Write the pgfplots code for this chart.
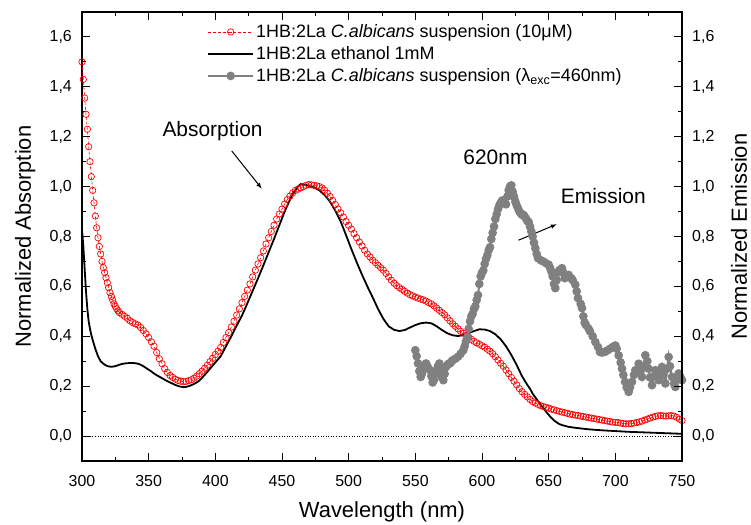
\documentclass[border=0pt]{standalone}
\usepackage{fontspec}
\setmainfont{Liberation Sans}
\usepackage{pgfplots}
\pgfplotsset{compat=1.18}
\definecolor{emgray}{RGB}{128,128,128}
\begin{document}
\begin{tikzpicture}
\pgfplotsset{
  common/.style={
    scale only axis, width=600bp, height=449bp,
    xmin=300, xmax=750, ymin=-0.1, ymax=1.7,
    tick align=inside,
    major tick length=8bp, minor tick length=4.5bp,
    minor x tick num=1, minor y tick num=1,
    xtick={300,350,...,750},
    ytick={0,0.2,0.4,0.6,0.8,1.0,1.2,1.4,1.6},
    every tick/.style={black, line width=1bp},
    axis line style={line width=1.3bp},
    /pgf/number format/assume math mode=true,
    tick label style={font=\fontsize{16}{19}\selectfont},
    yticklabel style={/pgf/number format/use comma, /pgf/number format/fixed, /pgf/number format/fixed zerofill, /pgf/number format/precision=1},
    label style={font=\fontsize{22}{26}\selectfont},
  }
}
\begin{axis}[common,
  xticklabel style={anchor=base, yshift=-25bp},
  yticklabel style={anchor=east, inner sep=0pt, xshift=-10bp},
  xlabel={Wavelength (nm)},
  xlabel style={at={(axis description cs:0.5,0)}, anchor=base, yshift=-56bp},
  ylabel={Normalized Absorption},
  ylabel style={at={(axis description cs:-0.085,0.5)}, rotate=0, anchor=base},
  legend cell align=left,
  legend style={draw=none, fill=none, at={(axis description cs:0.205,0.981)}, anchor=north west,
    font=\fontsize{18}{21}\selectfont, row sep=3.5bp, inner sep=2bp},
  legend image code/.code={\draw[mark repeat=2,mark phase=2,#1] plot coordinates {(0bp,0bp) (22.5bp,0bp) (45bp,0bp)};},
]
\addplot[black, dotted, line width=0.6bp, forget plot] coordinates {(300,0) (750,0)};
% red: C. albicans suspension absorption
\addplot[red, dash pattern=on 3bp off 2bp, line width=0.6bp, mark=o, mark size=3.2bp, mark options={solid, line width=0.7bp}] table {
x y
300 1.50
301 1.43
302 1.355
303 1.29
304 1.23
305 1.16
306 1.10
307 1.04
308 0.985
309 0.935
310 0.882
311 0.835
312 0.795
313 0.76
314 0.73
315 0.70
316 0.675
317 0.655
318 0.635
319 0.615
320 0.595
321 0.575
322 0.56
323 0.545
324 0.53
325 0.52
326 0.51
327 0.502
328 0.495
330 0.488
332 0.48
334 0.472
336 0.462
338 0.455
340 0.45
342 0.445
344 0.435
346 0.423
348 0.41
350 0.395
352 0.378
354 0.36
356 0.335
358 0.31
360 0.29
362 0.27
364 0.255
366 0.243
368 0.235
370 0.228
372 0.223
374 0.22
376 0.218
378 0.219
380 0.222
382 0.226
384 0.232
386 0.24
388 0.25
390 0.26
392 0.272
394 0.284
396 0.298
398 0.312
400 0.327
402 0.34
404 0.355
406 0.375
408 0.395
410 0.415
412 0.437
414 0.46
416 0.485
418 0.51
420 0.535
422 0.56
424 0.585
426 0.61
428 0.638
430 0.665
432 0.69
434 0.715
436 0.742
438 0.77
440 0.795
442 0.82
444 0.845
446 0.87
448 0.89
450 0.91
452 0.93
454 0.948
456 0.962
458 0.975
460 0.985
462 0.99
464 0.995
466 1.0
468 1.005
470 1.008
472 1.007
474 1.005
476 1.003
478 1.0
480 0.995
482 0.985
484 0.973
486 0.96
488 0.945
490 0.928
492 0.91
494 0.895
496 0.878
498 0.86
500 0.845
502 0.83
504 0.812
506 0.795
508 0.778
510 0.762
512 0.745
514 0.73
516 0.718
518 0.705
520 0.695
522 0.685
524 0.675
526 0.665
528 0.652
530 0.638
532 0.625
534 0.613
536 0.603
538 0.595
540 0.588
542 0.58
544 0.573
546 0.567
548 0.562
550 0.557
552 0.553
554 0.549
556 0.546
558 0.541
560 0.535
562 0.53
564 0.522
566 0.513
568 0.504
570 0.495
572 0.486
574 0.474
576 0.462
578 0.45
580 0.44
582 0.43
584 0.42
586 0.412
588 0.404
590 0.397
592 0.388
594 0.38
596 0.374
598 0.368
600 0.362
602 0.356
604 0.348
606 0.34
608 0.33
610 0.318
612 0.305
614 0.292
616 0.28
618 0.265
620 0.25
622 0.235
624 0.22
626 0.205
628 0.19
630 0.178
632 0.167
634 0.157
636 0.147
638 0.138
640 0.132
642 0.127
644 0.122
646 0.118
648 0.115
650 0.112
652 0.108
654 0.105
656 0.102
658 0.099
660 0.096
662 0.094
664 0.091
666 0.088
668 0.086
670 0.084
672 0.082
674 0.08
676 0.078
678 0.076
680 0.074
682 0.072
684 0.07
686 0.068
688 0.066
690 0.064
692 0.062
694 0.06
696 0.058
698 0.056
700 0.055
702 0.054
704 0.052
706 0.05
708 0.049
710 0.049
712 0.05
714 0.052
716 0.054
718 0.057
720 0.06
722 0.064
724 0.068
726 0.072
728 0.076
730 0.079
732 0.081
734 0.082
736 0.081
738 0.08
740 0.081
742 0.082
744 0.08
746 0.075
748 0.068
750 0.062
};
\addlegendentry{1HB:2La \textit{C.albicans} suspension (10μM)}
% black: ethanol 1 mM
\addplot[black, line width=1.8bp] table {
x y
300 0.83
301 0.76
302 0.67
303 0.58
304 0.51
305 0.46
306 0.43
307 0.405
308 0.385
310 0.35
312 0.32
314 0.3
316 0.29
318 0.283
320 0.279
322 0.278
324 0.279
326 0.282
328 0.286
330 0.289
332 0.291
334 0.292
336 0.293
338 0.293
340 0.292
342 0.29
344 0.286
346 0.28
348 0.273
350 0.266
352 0.259
354 0.251
356 0.244
358 0.238
360 0.232
362 0.226
364 0.22
366 0.215
368 0.21
370 0.205
372 0.201
374 0.198
376 0.196
378 0.197
380 0.2
382 0.204
384 0.209
386 0.215
388 0.222
392 0.245
396 0.27
400 0.295
404 0.32
408 0.36
412 0.40
416 0.443
420 0.483
424 0.532
428 0.582
432 0.632
436 0.684
440 0.737
444 0.79
448 0.845
452 0.9
456 0.948
458 0.97
460 0.985
462 1.0
464 1.01
466 1.008
468 1.007
470 1.003
474 0.997
478 0.985
482 0.966
486 0.94
490 0.903
494 0.86
498 0.806
502 0.75
506 0.697
510 0.647
514 0.6
518 0.556
522 0.51
526 0.47
530 0.44
534 0.426
538 0.421
542 0.425
546 0.435
550 0.445
554 0.452
558 0.455
562 0.452
566 0.44
570 0.425
574 0.412
578 0.404
582 0.401
586 0.405
590 0.413
594 0.421
598 0.428
602 0.427
606 0.421
610 0.408
614 0.388
618 0.36
622 0.325
626 0.285
630 0.24
634 0.205
636 0.19
638 0.17
640 0.155
642 0.14
644 0.126
646 0.112
648 0.098
650 0.085
652 0.073
654 0.063
656 0.055
658 0.048
660 0.044
665 0.037
670 0.033
680 0.027
690 0.023
700 0.02
710 0.017
720 0.015
730 0.013
740 0.011
750 0.009
};
\addlegendentry{1HB:2La ethanol 1mM}
% grey: emission
\addplot[emgray, line width=2bp, mark=*, mark size=3.3bp, mark options={emgray}] table {
x y
550 0.344
551 0.32
552 0.291
553 0.26
554 0.237
555 0.25
556 0.27
557 0.285
558 0.291
559 0.28
560 0.27
561 0.264
562 0.24
563 0.215
564 0.225
565 0.25
566 0.264
567 0.28
568 0.291
569 0.26
570 0.235
571 0.224
572 0.25
573 0.277
574 0.285
575 0.29
576 0.291
577 0.298
578 0.304
580 0.31
582 0.318
584 0.33
586 0.344
587 0.36
588 0.38
589 0.397
590 0.43
591 0.46
592 0.48
593 0.49
594 0.51
595 0.52
596 0.545
597 0.565
598 0.61
599 0.64
600 0.655
601 0.664
602 0.69
603 0.71
604 0.725
605 0.745
606 0.757
607 0.79
608 0.815
609 0.84
610 0.87
611 0.889
612 0.91
613 0.925
614 0.935
615 0.944
616 0.944
617 0.935
618 0.929
619 0.96
620 0.985
621 1.0
622 1.005
623 0.98
624 0.96
625 0.94
626 0.925
627 0.913
628 0.9
629 0.893
630 0.887
631 0.887
632 0.88
633 0.872
634 0.862
635 0.858
636 0.84
637 0.82
638 0.8
639 0.775
640 0.753
641 0.73
642 0.713
644 0.705
646 0.70
648 0.693
650 0.687
651 0.675
652 0.66
653 0.64
654 0.61
655 0.593
656 0.625
657 0.655
658 0.665
660 0.673
661 0.655
662 0.633
663 0.64
665 0.646
667 0.633
668 0.625
670 0.607
671 0.58
672 0.553
674 0.53
675 0.513
676 0.48
677 0.455
678 0.445
680 0.43
681 0.42
683 0.4
685 0.377
687 0.357
688.5 0.337
690 0.335
692 0.337
694 0.343
696 0.35
698 0.357
700 0.363
701 0.35
702.5 0.323
704 0.295
705 0.27
706 0.245
707.3 0.217
708.5 0.195
710 0.177
711 0.195
712.5 0.217
714 0.245
715 0.264
717.5 0.29
719 0.26
720 0.237
721 0.28
722.5 0.324
724 0.3
725 0.27
726 0.235
727.5 0.204
729 0.24
730 0.264
731 0.245
732.5 0.224
734 0.25
735 0.277
736 0.245
737.5 0.211
739 0.27
740 0.317
741 0.28
742.5 0.237
744 0.21
745 0.197
746 0.225
747.5 0.251
749 0.235
750 0.224
};
\addlegendentry{1HB:2La \textit{C.albicans} suspension (λ\textsubscript{exc}=460nm)}
\node[anchor=base, font=\fontsize{21}{25}\selectfont] at (axis cs:397.9,1.199) {Absorption};
\draw[-latex, line width=1bp] (axis cs:412.3,1.143) -- (axis cs:434.8,0.992);
\node[anchor=base, font=\fontsize{21}{25}\selectfont] at (axis cs:610.1,1.089) {620nm};
\node[anchor=base, font=\fontsize{21}{25}\selectfont] at (axis cs:691,0.932) {Emission};
\draw[-latex, line width=1bp] (axis cs:627.3,0.785) -- (axis cs:656,0.849);
\end{axis}
\begin{axis}[common,
  axis x line=none, axis y line*=right,
  yticklabel style={anchor=west, inner sep=0pt, xshift=10bp},
  ylabel={Normalized Emission},
  ylabel style={at={(axis description cs:1.108,0.5)}, rotate=0, anchor=base},
]
\end{axis}
\pgfresetboundingbox
\useasboundingbox (-82bp,-64bp) rectangle (669bp,461bp);
\end{tikzpicture}
\end{document}
